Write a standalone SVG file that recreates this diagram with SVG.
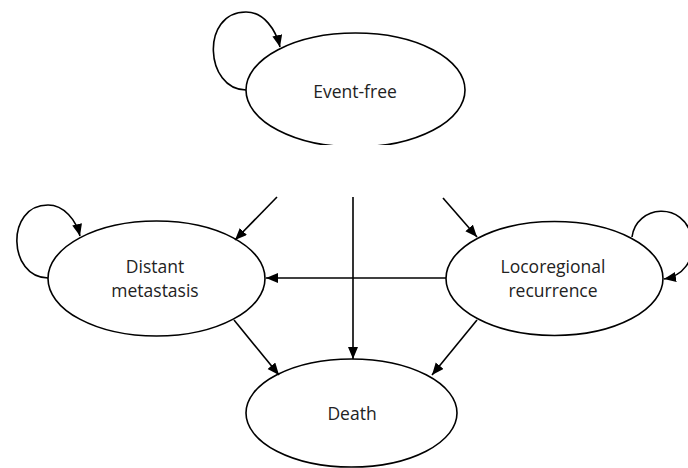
<svg xmlns="http://www.w3.org/2000/svg" width="688" height="468" viewBox="0 0 688 468">
<defs>
<marker id="arr" markerUnits="userSpaceOnUse" markerWidth="14" markerHeight="12" refX="12" refY="5" orient="auto">
<path d="M0,0 L12,5 L0,10 Z" fill="#000"/>
</marker>
<style>
.node{fill:#fff;stroke:#000;stroke-width:1.6}
.lbl{font-family:"Open Sans","Noto Sans",sans-serif;font-size:17.5px;fill:#222;text-anchor:middle}
.c{fill:none;stroke:#000;stroke-width:1.6}
.a{marker-end:url(#arr)}
</style>
</defs>
<rect width="688" height="468" fill="#fff"/>
<g id="event-free">
<ellipse class="node" cx="355.5" cy="90" rx="109.5" ry="57"/>
<rect x="240" y="145" width="232" height="51" fill="#fff"/>
<text class="lbl" x="355" y="98">Event-free</text>
</g>
<g id="distant-metastasis">
<ellipse class="node" cx="156.5" cy="278.5" rx="108.5" ry="57.5"/>
<text class="lbl" x="155" y="273">Distant</text>
<text class="lbl" x="155" y="297">metastasis</text>
</g>
<g id="locoregional-recurrence">
<ellipse class="node" cx="554.5" cy="278.5" rx="108.5" ry="57"/>
<text class="lbl" x="553" y="273">Locoregional</text>
<text class="lbl" x="553" y="297">recurrence</text>
</g>
<g id="death">
<ellipse class="node" cx="351.5" cy="413" rx="105.5" ry="54"/>
<text class="lbl" x="352" y="420">Death</text>
</g>
<g id="connectors">
<path class="c a" d="M246,90 C205,90 200,12 246,12 C264,12 276,30 280,47"/>
<path class="c a" d="M48,278 C8,278 5,205 48,205 C64,205 76,220 80,236"/>
<path class="c a" d="M632,237 C636,205 684,200 692,238 C695,262 682,276 664,279"/>
<path class="c a" d="M277,197 L235,240"/>
<path class="c a" d="M443,198 L477,237"/>
<path class="c a" d="M446,278 L266,278"/>
<path class="c a" d="M353,197 L353,359"/>
<path class="c a" d="M234,320 L279,375"/>
<path class="c a" d="M477,320 L432,375"/>
</g>
</svg>
